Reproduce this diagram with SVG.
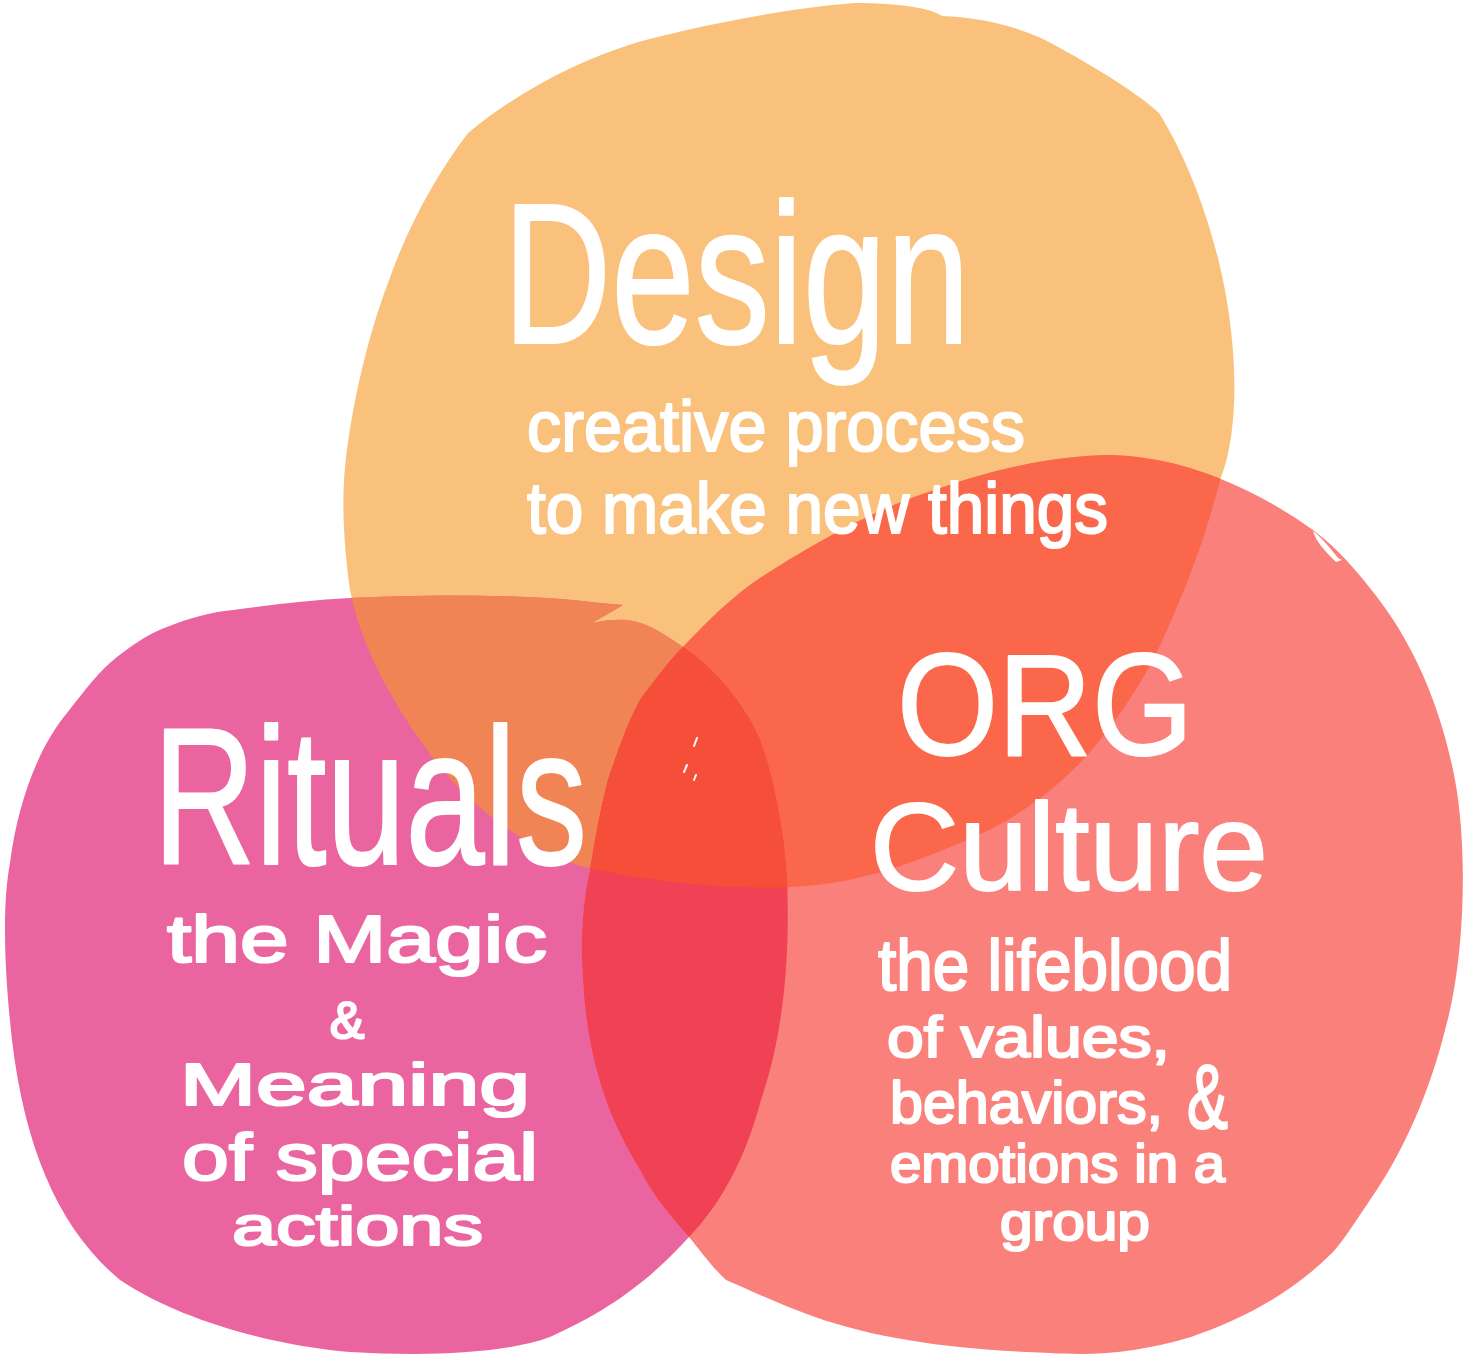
<svg xmlns="http://www.w3.org/2000/svg" xmlns:xlink="http://www.w3.org/1999/xlink" width="1464" height="1357" viewBox="0 0 1464 1357">
<style>
.lbl{fill:#ffffff;stroke:#ffffff;stroke-linejoin:round;font-family:"Liberation Sans","Open Sans",sans-serif;font-weight:normal;}
.big{stroke-width:2;}
.small{stroke-width:2.2;}
.mark{fill:none;stroke:#ffffff;stroke-linecap:round;}
</style>
<defs>
<path id="p-design" d="M 854,3 C 900,3 930,8 942,16 C 990,18 1030,30 1060,48 C 1100,70 1140,95 1159,113 C 1195,170 1225,260 1232,340 C 1238,400 1232,450 1221,477 C 1205,540 1185,590 1167,630 C 1150,670 1130,700 1113,723 C 1080,770 1030,815 960,843 C 900,868 850,885 790,887 C 720,890 640,880 580,866 C 520,845 460,800 420,740 C 385,690 360,640 350,590 C 343,540 342,500 345,467 C 352,400 370,330 388,283 C 410,220 440,170 468,133 C 520,90 580,60 635,43 C 700,25 790,8 854,3 Z"/>
<path id="p-rituals" d="M 350,598 C 420,595 520,593 600,603 L 623,605 C 612,612 600,618 592,623 C 605,620 617,619 627,620 C 650,623 665,635 683,647 C 715,668 745,705 760,740 C 775,780 785,840 787,880 C 790,950 785,1030 761,1100 C 745,1160 720,1205 689,1237 C 650,1280 610,1310 550,1337 C 500,1355 420,1356 350,1352 C 270,1345 180,1320 120,1280 C 60,1230 25,1150 12,1040 C 3,960 3,900 10,863 C 18,800 40,745 67,713 C 85,690 100,670 117,657 C 135,643 150,633 167,627 C 190,618 210,612 233,610 C 270,605 310,600 350,598 Z"/>
<path id="p-culture" d="M 683,647 C 710,618 735,595 757,580 C 800,552 870,510 935,490 C 995,468 1060,455 1112,455 C 1180,457 1250,485 1313,530 C 1340,550 1360,575 1377,597 C 1410,640 1440,700 1455,780 C 1468,850 1465,960 1445,1030 C 1430,1090 1405,1150 1370,1200 C 1350,1230 1340,1245 1332,1253 C 1290,1295 1240,1320 1191,1337 C 1140,1352 1100,1356 1050,1353 C 960,1350 880,1340 815,1317 C 780,1305 750,1290 726,1280 C 710,1265 700,1250 689,1237 C 665,1210 650,1190 640,1170 C 625,1145 615,1125 606,1100 C 592,1060 585,1020 583,980 C 580,940 583,900 590,870 C 595,840 600,810 608,780 C 618,750 628,722 640,700 C 655,680 668,662 683,647 Z"/>
<clipPath id="c-design"><use xlink:href="#p-design"/></clipPath>
<clipPath id="c-rituals"><use xlink:href="#p-rituals"/></clipPath>
</defs>
<rect width="1464" height="1357" fill="#ffffff"/>
<g id="shapes">
<g id="design"><use xlink:href="#p-design" fill="#FAC17D"/></g>
<g id="rituals"><use xlink:href="#p-rituals" fill="#EA659F"/></g>
<g id="culture"><use xlink:href="#p-culture" fill="#FA807C"/></g>
</g>
<g id="overlaps">
<use xlink:href="#p-rituals" fill="#F18455" clip-path="url(#c-design)"/>
<use xlink:href="#p-culture" fill="#FA674A" clip-path="url(#c-design)"/>
<use xlink:href="#p-culture" fill="#F04155" clip-path="url(#c-rituals)"/>
<g clip-path="url(#c-design)"><use xlink:href="#p-culture" fill="#F64F39" clip-path="url(#c-rituals)"/></g>
</g>
<g id="marks">
<path d="M 1313,531 C 1322,538 1332,550 1338,558 L 1342,560 L 1336,562 C 1326,552 1316,542 1313,531 Z" fill="#ffffff"/>
<path class="mark" stroke-width="2" d="M 697,738 L 694,746 M 687,765 L 684,772 M 696,775 L 694,780"/>
</g>
<g id="design-label">
<text class="lbl big" x="503" y="343" font-size="200" textLength="467" lengthAdjust="spacingAndGlyphs">Design</text>
<text class="lbl small" x="527" y="451" font-size="72" textLength="498" lengthAdjust="spacingAndGlyphs">creative process</text>
<text class="lbl small" x="527" y="533" font-size="72" textLength="581" lengthAdjust="spacingAndGlyphs">to make new things</text>
</g>
<g id="rituals-label">
<text class="lbl big" x="153" y="864" font-size="195" textLength="434" lengthAdjust="spacingAndGlyphs">Rituals</text>
<text class="lbl small" x="167" y="962" font-size="66" textLength="380" lengthAdjust="spacingAndGlyphs">the Magic</text>
<text class="lbl small" x="347" y="1038" font-size="52" text-anchor="middle">&amp;</text>
<text class="lbl small" x="180" y="1105" font-size="60" textLength="350" lengthAdjust="spacingAndGlyphs">Meaning</text>
<text class="lbl small" x="182" y="1180" font-size="66" textLength="356" lengthAdjust="spacingAndGlyphs">of special</text>
<text class="lbl small" x="232" y="1245" font-size="56" textLength="251" lengthAdjust="spacingAndGlyphs">actions</text>
</g>
<g id="culture-label">
<text class="lbl big" x="897" y="755" font-size="145" textLength="296" lengthAdjust="spacingAndGlyphs">ORG</text>
<text class="lbl big" x="870" y="890" font-size="125" textLength="398" lengthAdjust="spacingAndGlyphs">Culture</text>
<text class="lbl small" x="878" y="990" font-size="72" textLength="354" lengthAdjust="spacingAndGlyphs">the lifeblood</text>
<text class="lbl small" x="887" y="1057" font-size="58" textLength="283" lengthAdjust="spacingAndGlyphs">of values,</text>
<text class="lbl small" x="890" y="1123" font-size="60" textLength="273" lengthAdjust="spacingAndGlyphs">behaviors,</text>
<text class="lbl small" x="1187" y="1128" font-size="90" textLength="41" lengthAdjust="spacingAndGlyphs">&amp;</text>
<text class="lbl small" x="890" y="1182" font-size="54" textLength="335" lengthAdjust="spacingAndGlyphs">emotions in a</text>
<text class="lbl small" x="1000" y="1240" font-size="54" textLength="150" lengthAdjust="spacingAndGlyphs">group</text>
</g>
</svg>
